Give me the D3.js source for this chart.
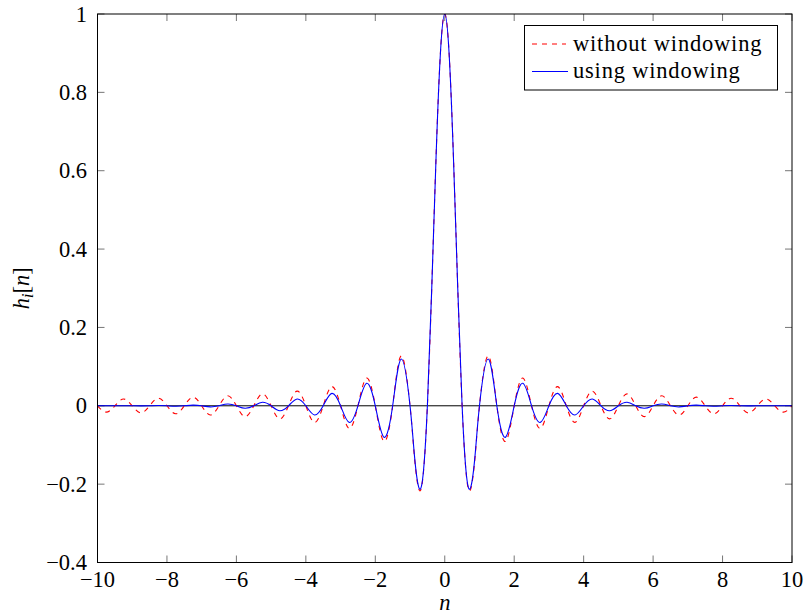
<!DOCTYPE html>
<html><head><meta charset="utf-8">
<script src="https://cdn.jsdelivr.net/npm/d3@7"></script>
<style>body{margin:0;background:#fff}svg{display:block}</style>
</head><body>
<svg id="chart" width="805" height="616" font-family="'Liberation Serif', 'DejaVu Serif', 'Times New Roman', serif"></svg>
<script>
const nValues = [-10,-9.75,-9.5,-9.25,-9,-8.75,-8.5,-8.25,-8,-7.75,-7.5,-7.25,-7,-6.75,-6.5,-6.25,-6,-5.75,-5.5,-5.25,-5,-4.75,-4.5,-4.25,-4,-3.75,-3.5,-3.25,-3,-2.75,-2.5,-2.25,-2,-1.75,-1.5,-1.25,-1,-0.875,-0.75,-0.625,-0.5,-0.375,-0.25,-0.125,0,0.125,0.25,0.375,0.5,0.625,0.75,0.875,1,1.25,1.5,1.75,2,2.25,2.5,2.75,3,3.25,3.5,3.75,4,4.25,4.5,4.75,5,5.25,5.5,5.75,6,6.25,6.5,6.75,7,7.25,7.5,7.75,8,8.25,8.5,8.75,9,9.25,9.5,9.75,10];
const withoutWindowing = [0,-0.0163,0,0.0172,0,-0.0182,0,0.0193,0,-0.0205,0,0.022,0,-0.0236,0,0.0255,0,-0.0277,0,0.0303,0,-0.0335,0,0.0374,0,-0.0424,0,0.049,0,-0.0579,0,0.0707,0,-0.0909,0,0.1273,0,-0.1286,-0.2122,-0.1801,0,0.3001,0.6366,0.9003,1,0.9003,0.6366,0.3001,0,-0.1801,-0.2122,-0.1286,0,0.1273,0,-0.0909,0,0.0707,0,-0.0579,0,0.049,0,-0.0424,0,0.0374,0,-0.0335,0,0.0303,0,-0.0277,0,0.0255,0,-0.0236,0,0.022,0,-0.0205,0,0.0193,0,-0.0182,0,0.0172,0,-0.0163,0];
const usingWindowing = [0,0,0,0.0001,0,-0.0003,0,0.0006,0,-0.0011,0,0.0018,0,-0.0029,0,0.0044,0,-0.0064,0,0.0091,0,-0.0127,0,0.0174,0,-0.0235,0,0.0316,0,-0.0424,0,0.0575,0,-0.0802,0,0.1195,0,-0.1247,-0.2074,-0.1773,0,0.2984,0.635,0.8997,1,0.8997,0.635,0.2984,0,-0.1773,-0.2074,-0.1247,0,0.1195,0,-0.0802,0,0.0575,0,-0.0424,0,0.0316,0,-0.0235,0,0.0174,0,-0.0127,0,0.0091,0,-0.0064,0,0.0044,0,-0.0029,0,0.0018,0,-0.0011,0,0.0006,0,-0.0003,0,0.0001,0,0,0];
const xTicks = [-10,-8,-6,-4,-2,0,2,4,6,8,10];
const yTicks = [-0.4,-0.2,0,0.2,0.4,0.6,0.8,1];
const legendLabels = ["without windowing","using windowing"];

const svg = d3.select("#chart");
const L = 97.5, R = 792, T = 14, B = 562.5;
const x = d3.scaleLinear().domain([-10,10]).range([L,R]);
const y = d3.scaleLinear().domain([-0.4,1]).range([B,T]);
const fmt = v => (v < 0 ? "\u2212" : "") + String(Math.abs(+v.toFixed(1)));
const FS = 22.5;

svg.append("clipPath").attr("id","clip").append("rect")
  .attr("x",L).attr("y",T).attr("width",R-L).attr("height",B-T);

const tl = 7;
const tg = svg.append("g").attr("stroke","#666").attr("stroke-width",0.9);
xTicks.forEach(t => {
  tg.append("line").attr("x1",x(t)).attr("x2",x(t)).attr("y1",B).attr("y2",B-tl);
  tg.append("line").attr("x1",x(t)).attr("x2",x(t)).attr("y1",T).attr("y2",T+tl);
});
yTicks.forEach(t => {
  tg.append("line").attr("y1",y(t)).attr("y2",y(t)).attr("x1",L).attr("x2",L+tl);
  tg.append("line").attr("y1",y(t)).attr("y2",y(t)).attr("x1",R).attr("x2",R-tl);
});

svg.append("line").attr("x1",L).attr("x2",R).attr("y1",y(0)).attr("y2",y(0))
  .attr("stroke","#000").attr("stroke-width",1);

const line = (vals) => d3.line().x((d,i)=>x(nValues[i])).y(d=>y(d)).curve(d3.curveNatural)(vals);
const pg = svg.append("g").attr("clip-path","url(#clip)");
pg.append("path").attr("d",line(withoutWindowing)).attr("fill","none")
  .attr("stroke","#ff0000").attr("stroke-width",1.1).attr("stroke-dasharray","5,5");
pg.append("path").attr("d",line(usingWindowing)).attr("fill","none")
  .attr("stroke","#0000ff").attr("stroke-width",1.1);

svg.append("rect").attr("x",L).attr("y",T).attr("width",R-L).attr("height",B-T)
  .attr("fill","none").attr("stroke","#000").attr("stroke-width",1);

xTicks.forEach(t => {
  svg.append("text").attr("x",x(t)).attr("y",587).attr("text-anchor","middle")
    .attr("font-size",FS).text(fmt(t));
});
yTicks.forEach(t => {
  svg.append("text").attr("x",87).attr("y",y(t)+7.5).attr("text-anchor","end")
    .attr("font-size",FS).text(fmt(t));
});

svg.append("text").attr("x",(L+R)/2).attr("y",610).attr("text-anchor","middle")
  .attr("font-size",FS).attr("font-style","italic").text("n");
const yl = svg.append("text").attr("transform","translate(29,"+((T+B)/2)+") rotate(-90)")
  .attr("text-anchor","middle").attr("font-size",FS);
yl.append("tspan").attr("font-style","italic").text("h");
yl.append("tspan").attr("font-style","italic").attr("font-size",FS*0.7).attr("dy",4).text("i");
yl.append("tspan").attr("dy",-4).text("[");
yl.append("tspan").attr("font-style","italic").text("n");
yl.append("tspan").text("]");

const lg = svg.append("g");
lg.append("rect").attr("x",524.5).attr("y",25.5).attr("width",253).attr("height",64.5)
  .attr("fill","#fff").attr("stroke","#000").attr("stroke-width",1);
lg.append("line").attr("x1",532).attr("x2",566).attr("y1",44).attr("y2",44)
  .attr("stroke","#ff0000").attr("stroke-width",1.1).attr("stroke-dasharray","5,5");
lg.append("line").attr("x1",532).attr("x2",568).attr("y1",71.5).attr("y2",71.5)
  .attr("stroke","#0000ff").attr("stroke-width",1.1);
legendLabels.forEach((s,i) => {
  lg.append("text").attr("x",573).attr("y",51+i*27).attr("font-size",FS)
    .attr("letter-spacing",0.8).text(s);
});
</script>
</body></html>
